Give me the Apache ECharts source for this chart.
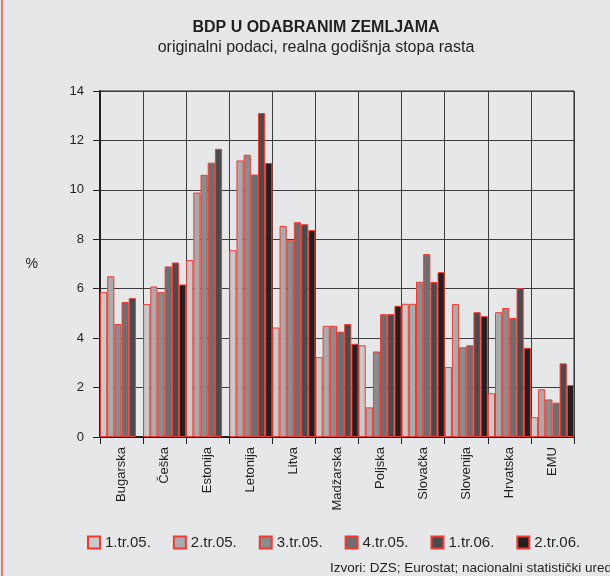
<!DOCTYPE html>
<html>
<head>
<meta charset="utf-8">
<script src="https://cdn.jsdelivr.net/npm/echarts@6/dist/echarts.min.js"></script>
<style>
html, body { margin: 0; padding: 0; background: #e6e7e9; }
#main { width: 610px; height: 576px; }
</style>
</head>
<body>
<div id="main"></div>
<script>
// zemlje
var categories = ['Bugarska', 'Češka', 'Estonija', 'Letonija', 'Litva', 'Madžarska', 'Poljska', 'Slovačka', 'Slovenija', 'Hrvatska', 'EMU']
var quarters = ['1.tr.05.', '2.tr.05.', '3.tr.05.', '4.tr.05.', '1.tr.06.', '2.tr.06.']
var colors = ['#c8c9cb', '#a9aaac', '#8b8c8e', '#6d6e70', '#4b4b4d', '#231f20']

// realna godisnja stopa rasta, %
var q1_05 = [5.86, 5.38, 7.16, 7.56, 4.43, 3.23, 3.71, 5.39, 2.83, 1.77, 0.80]
var q2_05 = [6.50, 6.09, 9.89, 11.19, 8.54, 4.50, 1.20, 5.39, 5.38, 5.05, 1.93]
var q3_05 = [4.57, 5.86, 10.61, 11.42, 7.96, 4.50, 3.46, 6.28, 3.63, 5.22, 1.52]
var q4_05 = [5.46, 6.90, 11.10, 10.62, 8.69, 4.26, 4.97, 7.40, 3.71, 4.82, 1.39]
var q1_06 = [5.62, 7.06, 11.66, 13.11, 8.61, 4.57, 4.97, 6.27, 5.05, 6.02, 2.98]
var q2_06 = ['-', 6.17, '-', 11.09, 8.37, 3.77, 5.31, 6.67, 4.89, 3.61, 2.10]

var values = [q1_05, q2_05, q3_05, q4_05, q1_06, q2_06]
var yTicks = [0, 2, 4, 6, 8, 10, 12, 14]

var font = "'Liberation Sans', Arial, sans-serif"
var myChart = echarts.init(document.getElementById('main'))

var series = []
for (var i = 0; i < quarters.length; i++) {
    series.push({
        name: quarters[i],
        type: 'bar',
        data: values[i],
        barGap: '0%',
        barCategoryGap: '0%',
        itemStyle: {
            color: colors[i],
            borderColor: '#f03a32',
            borderWidth: 1
        },
        emphasis: { disabled: true }
    })
}

var option = {
    backgroundColor: '#e6e7e9',
    animation: false,
    textStyle: { fontFamily: font },
    title: [
        {
            text: 'BDP U ODABRANIM ZEMLJAMA',
            left: 311, textAlign: 'center', top: 15,
            textStyle: { fontSize: 16, fontWeight: 'bold', color: '#231f20', fontFamily: font }
        },
        {
            text: 'originalni podaci, realna godišnja stopa rasta',
            left: 311, textAlign: 'center', top: 35,
            textStyle: { fontSize: 16, fontWeight: 'normal', color: '#231f20', fontFamily: font }
        }
    ],
    graphic: [
        { type: 'line', shape: { x1: 2, y1: 0, x2: 2, y2: 576 }, style: { stroke: '#e8544c', lineWidth: 1.5 } },
        { type: 'text', left: 10, top: -10, style: { text: 'Slika 2.', fontSize: 13, fill: '#231f20', fontFamily: font } },
        { type: 'text', left: 330, top: 561, style: { text: 'Izvori: DZS; Eurostat; nacionalni statistički uredi', fontSize: 13.5, fill: '#231f20', fontFamily: font } }
    ],
    legend: {
        data: quarters,
        left: 82,
        top: 530,
        itemWidth: 12,
        itemHeight: 12,
        itemGap: 22,
        icon: 'rect',
        textStyle: { fontSize: 15, color: '#231f20', fontFamily: font }
    },
    grid: {
        left: 100, right: 36, top: 91, bottom: 139,
        show: true, borderColor: '#231f20', borderWidth: 1
    },
    xAxis: {
        type: 'category',
        data: categories,
        boundaryGap: true,
        axisLine: { lineStyle: { color: '#231f20', width: 2 } },
        axisTick: { show: true, length: 7, alignWithLabel: false, lineStyle: { color: '#231f20' } },
        axisLabel: { rotate: 90, margin: 10, fontSize: 13, color: '#231f20', fontFamily: font, interval: 0 },
        splitLine: { show: true, interval: 0, lineStyle: { color: '#3c3c3e', width: 1 } }
    },
    yAxis: {
        type: 'value',
        min: yTicks[0],
        max: yTicks[yTicks.length - 1],
        interval: 2,
        name: '%',
        nameLocation: 'middle',
        nameRotate: 0,
        nameGap: 62,
        nameTextStyle: { fontSize: 14, color: '#231f20', fontFamily: font },
        axisLine: { show: true, lineStyle: { color: '#231f20', width: 2 } },
        axisTick: { show: true, length: 7, lineStyle: { color: '#231f20' } },
        axisLabel: { margin: 16, fontSize: 13, color: '#231f20', fontFamily: font },
        splitLine: { show: true, lineStyle: { color: '#3c3c3e', width: 1 } }
    },
    series: series
}

myChart.setOption(option)
</script>
</body>
</html>
